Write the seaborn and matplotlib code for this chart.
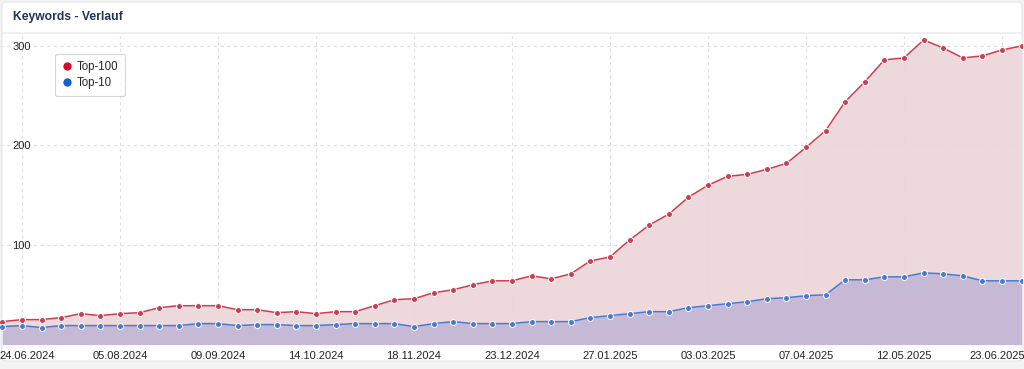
import numpy as np
import pandas as pd
import seaborn as sns
import matplotlib.pyplot as plt
import matplotlib.transforms as mtransforms
from matplotlib.patches import FancyBboxPatch
from matplotlib.lines import Line2D

# ── data (weekly keyword counts) ─────────────────────────────────────────────
top100 = [23, 25, 25, 27, 31, 29, 31, 32, 37, 39, 39, 39, 35, 35, 32, 33, 31, 33,
          33, 39, 45, 46, 52, 55, 60, 64, 64, 69, 66, 71, 84, 88, 105, 120, 131,
          148, 160, 169, 171, 176, 182, 198, 215, 244, 264, 286, 288, 306, 298,
          288, 290, 296, 300]
top10 = [18, 19, 17, 19, 19, 19, 19, 19, 19, 19, 21, 21, 19, 20, 20, 19, 19, 20,
         21, 21, 21, 18, 21, 23, 21, 21, 21, 23, 23, 23, 27, 29, 31, 33, 33, 37,
         39, 41, 43, 46, 47, 49, 50, 65, 65, 68, 68, 72, 71, 69, 64, 64, 64]
tick_pos = [1, 6, 11, 16, 21, 26, 31, 36, 41, 46, 51]
tick_labels = ["24.06.2024", "05.08.2024", "09.09.2024", "14.10.2024", "18.11.2024",
               "23.12.2024", "27.01.2025", "03.03.2025", "07.04.2025", "12.05.2025",
               "23.06.2025"]

idx = np.arange(len(top100))
df = pd.DataFrame({
    "week": np.concatenate([idx, idx]),
    "keywords": top100 + top10,
    "series": ["Top-100"] * len(top100) + ["Top-10"] * len(top10),
})

RED = "#cd3d52"
BLUE = "#4a7ad0"

sns.set_theme(style="white")
plt.rcParams['font.family'] = ['Liberation Sans', 'DejaVu Sans']

fig = plt.figure(figsize=(10.24, 3.69), dpi=100)
fig.patch.set_facecolor("#f3f3f3")

# card background + header (drawn behind the axes)
card = FancyBboxPatch((2 / 1024, 8 / 369), 1020 / 1024, 359 / 369,
                      boxstyle="round,pad=0,rounding_size=0.006",
                      transform=fig.transFigure, facecolor="white",
                      edgecolor="#e6e6e6", linewidth=0.8, zorder=-10)
fig.add_artist(card)
fig.add_artist(Line2D([2 / 1024, 1022 / 1024], [1 - 33 / 369] * 2,
                      transform=fig.transFigure, color="#ececec",
                      linewidth=1.2, zorder=-5))
fig.text(13 / 1024, 1 - 17 / 369, "Keywords - Verlauf", fontsize=8.7,
         fontweight="bold", color="#1d3557", va="center", ha="left")

ax = fig.add_axes([0, 24.5 / 369, 1022 / 1024, 308.5 / 369])
ax.set_facecolor("none")
ax.set_zorder(1)

# areas
ax.fill_between(idx, top100, color="#ecd6da", alpha=0.95, zorder=1, linewidth=0)
ax.fill_between(idx, top10, color="#a7a0d0", alpha=0.55, zorder=2, linewidth=0)

sns.lineplot(data=df, x="week", y="keywords", hue="series",
             palette={"Top-100": RED, "Top-10": BLUE},
             marker="o", markersize=4.3, markeredgecolor="white", markeredgewidth=0.7,
             linewidth=1.1, ax=ax, legend=False, zorder=3)

ax.set_xlim(-0.12, 52.02)
ax.set_ylim(0, 310)
ax.set_xlabel("")
ax.set_ylabel("")

ax.set_xticks(tick_pos)
ax.set_xticklabels(tick_labels, fontsize=8, color="#222222")
ax.tick_params(axis="x", length=0, pad=5)
ax.set_yticks([100, 200, 300])
ax.set_yticklabels(["100", "200", "300"], fontsize=8, color="#222222", ha="left")
ax.tick_params(axis="y", length=0, pad=-9)

# edge labels nudged inward a little so they stay inside the card
xlabels = ax.get_xticklabels()
xlabels[0].set_transform(xlabels[0].get_transform() +
                         mtransforms.ScaledTranslation(5 / 100, 0, fig.dpi_scale_trans))
xlabels[-1].set_transform(xlabels[-1].get_transform() +
                          mtransforms.ScaledTranslation(-5 / 100, 0, fig.dpi_scale_trans))

ax.grid(True, linestyle=(0, (3, 3)), color="#e0e0e0", linewidth=0.8)
ax.set_axisbelow(True)
for s in ax.spines.values():
    s.set_visible(False)

# legend box
leg_handles = [Line2D([0], [0], marker="o", linestyle="none", markersize=6,
                      markerfacecolor="#d0102b", markeredgecolor="none"),
               Line2D([0], [0], marker="o", linestyle="none", markersize=6,
                      markerfacecolor="#1060d0", markeredgecolor="none")]
leg = ax.legend(leg_handles, ["Top-100", "Top-10"], loc="upper left",
                bbox_to_anchor=(49 / 1022, 1 - 12 / 308.5), fontsize=8.3,
                frameon=True, handletextpad=0.3, borderpad=0.6,
                labelspacing=0.4, handlelength=1.0, fancybox=True)
leg.get_frame().set_edgecolor("#cccccc")
leg.get_frame().set_linewidth(0.8)

fig.savefig("out.png", dpi=100, facecolor=fig.get_facecolor())
